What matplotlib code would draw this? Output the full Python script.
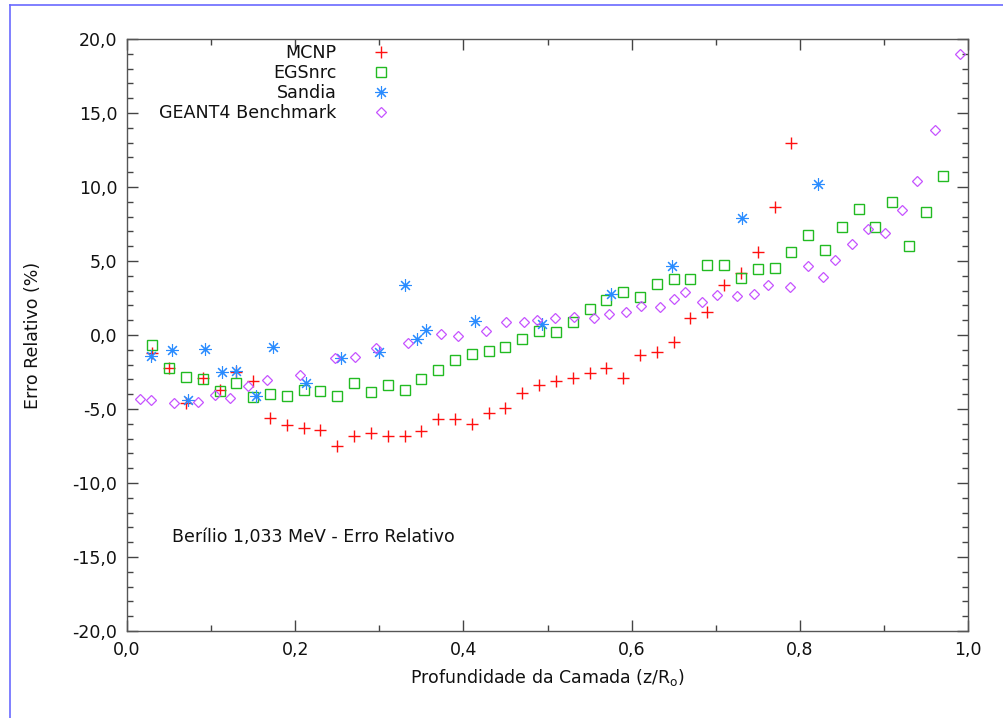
import matplotlib
matplotlib.use("Agg")
import matplotlib.pyplot as plt
from matplotlib.lines import Line2D
from matplotlib.ticker import MultipleLocator, FuncFormatter

# MCNP
mcnp_x = [0.03, 0.05, 0.07, 0.09, 0.11, 0.13, 0.15, 0.17, 0.19, 0.21, 0.23, 0.25,
          0.27, 0.29, 0.31, 0.33, 0.35, 0.37, 0.39, 0.41, 0.43, 0.45, 0.47, 0.49,
          0.51, 0.53, 0.55, 0.57, 0.59, 0.61, 0.63, 0.65, 0.67, 0.69, 0.71, 0.73,
          0.75, 0.77, 0.79]
mcnp_y = [-1.2, -2.2, -4.6, -2.9, -3.7, -2.5, -3.1, -5.6, -6.1, -6.3, -6.4, -7.5,
          -6.8, -6.6, -6.8, -6.8, -6.5, -5.7, -5.7, -6.0, -5.3, -4.9, -3.9, -3.4,
          -3.1, -2.9, -2.6, -2.2, -2.9, -1.35, -1.15, -0.5, 1.15, 1.55, 3.4, 4.2,
          5.6, 8.65, 13.0]

# EGSnrc
egs_x = [0.03, 0.05, 0.07, 0.09, 0.11, 0.13, 0.15, 0.17, 0.19, 0.21, 0.23, 0.25,
         0.27, 0.29, 0.31, 0.33, 0.35, 0.37, 0.39, 0.41, 0.43, 0.45, 0.47, 0.49,
         0.51, 0.53, 0.55, 0.57, 0.59, 0.61, 0.63, 0.65, 0.67, 0.69, 0.71, 0.73,
         0.75, 0.77, 0.79, 0.81, 0.83, 0.85, 0.87, 0.89, 0.91, 0.93, 0.95, 0.97]
egs_y = [-0.7, -2.2, -2.85, -3.0, -3.75, -3.25, -4.2, -4.0, -4.1, -3.7, -3.8, -4.1,
         -3.25, -3.85, -3.4, -3.7, -3.0, -2.35, -1.7, -1.3, -1.1, -0.8, -0.3, 0.3,
         0.2, 0.9, 1.75, 2.35, 2.9, 2.6, 3.45, 3.8, 3.8, 4.75, 4.7, 3.85,
         4.45, 4.5, 5.6, 6.75, 5.75, 7.3, 8.5, 7.3, 9.0, 6.0, 8.3, 10.75]

# Sandia
sandia_x = [0.029, 0.053, 0.072, 0.093, 0.113, 0.130, 0.153, 0.174, 0.213, 0.255,
            0.300, 0.330, 0.345, 0.355, 0.414, 0.494, 0.575, 0.648, 0.731, 0.822]
sandia_y = [-1.4, -1.0, -4.4, -0.95, -2.5, -2.4, -4.1, -0.8, -3.25, -1.55,
            -1.15, 3.4, -0.25, 0.35, 0.95, 0.75, 2.8, 4.65, 7.9, 10.2]

# GEANT4 Benchmark
g4_x = [0.015, 0.029, 0.056, 0.085, 0.105, 0.122, 0.144, 0.166, 0.206, 0.247,
        0.271, 0.296, 0.334, 0.373, 0.394, 0.427, 0.451, 0.472, 0.488, 0.509,
        0.531, 0.555, 0.573, 0.593, 0.611, 0.634, 0.650, 0.664, 0.684, 0.702,
        0.725, 0.746, 0.762, 0.788, 0.810, 0.828, 0.842, 0.862, 0.881, 0.901,
        0.922, 0.939, 0.961, 0.990]
g4_y = [-4.3, -4.4, -4.6, -4.5, -4.05, -4.25, -3.45, -3.05, -2.7, -1.55,
        -1.5, -0.9, -0.55, 0.05, -0.05, 0.25, 0.9, 0.9, 1.0, 1.15,
        1.2, 1.15, 1.4, 1.55, 1.95, 1.9, 2.45, 2.9, 2.2, 2.7,
        2.65, 2.8, 3.4, 3.24, 4.66, 3.9, 5.07, 6.15, 7.16, 6.9,
        8.45, 10.4, 13.85, 19.0]

labels = ["MCNP", "EGSnrc", "Sandia", "GEANT4 Benchmark"]

plt.rcParams["font.family"] = ["DejaVu Sans"]

fig = plt.figure(figsize=(10.04, 7.18), dpi=100)
ax = fig.add_axes([127 / 1004, 1 - 631 / 718, 841 / 1004, 592 / 718])

ax.plot(mcnp_x, mcnp_y, linestyle="none", marker="+", markersize=8,
        markeredgewidth=1.0, color="#ff1010", label=labels[0])
ax.plot(egs_x, egs_y, linestyle="none", marker="s", markersize=7,
        markeredgewidth=1.0, markerfacecolor="none", markeredgecolor="#22bb22",
        label=labels[1])
ax.plot(sandia_x, sandia_y, linestyle="none", marker=(8, 2, 0), markersize=9,
        markeredgewidth=0.8, color="#2a8cff", label=labels[2])
ax.plot(g4_x, g4_y, linestyle="none", marker="D", markersize=5,
        markeredgewidth=0.9, markerfacecolor="none", markeredgecolor="#c652ff",
        label=labels[3])

ax.set_xlim(0, 1)
ax.set_ylim(-20, 20)
ax.xaxis.set_major_locator(MultipleLocator(0.2))
ax.xaxis.set_minor_locator(MultipleLocator(0.1))
ax.yaxis.set_major_locator(MultipleLocator(5))
ax.yaxis.set_minor_locator(MultipleLocator(1))
ax.xaxis.set_major_formatter(FuncFormatter(lambda v, p: f"{v:.1f}".replace(".", ",")))
ax.yaxis.set_major_formatter(FuncFormatter(lambda v, p: f"{v:.1f}".replace(".", ",")))
ax.tick_params(which="both", direction="in", top=True, right=True,
               colors="#444444", labelcolor="#111111", labelsize=12.5)
ax.tick_params(which="major", length=8, width=1, pad=7)
ax.tick_params(which="minor", length=4, width=1)
for s in ax.spines.values():
    s.set_color("#555555")
    s.set_linewidth(1.0)

ax.set_xlabel("Profundidade da Camada (z/R$_\\mathregular{o}$)", fontsize=12.5,
              color="#111111", labelpad=6)
ax.set_ylabel("Erro Relativo (%)", fontsize=12.5, color="#111111", labelpad=22)

ax.text(172 / 1004, 1 - 537 / 718, "Berílio 1,033 MeV - Erro Relativo",
        transform=fig.transFigure, fontsize=12.5, color="#111111",
        ha="left", va="center")

leg = ax.legend(loc="upper right", bbox_to_anchor=(399 / 1004, 1 - 44 / 718),
                bbox_transform=fig.transFigure, markerfirst=False, frameon=False,
                fontsize=12.6, handletextpad=1.57, handlelength=2.0,
                labelspacing=0.12, borderpad=0, borderaxespad=0)
for t in leg.get_texts():
    t.set_color("#111111")

# page frame lines
fig.add_artist(Line2D([10 / 1004, 10 / 1004], [0, 1 - 5 / 718],
                      transform=fig.transFigure, color="#6a6aff", linewidth=1.2))
fig.add_artist(Line2D([10 / 1004, 1], [1 - 5 / 718, 1 - 5 / 718],
                      transform=fig.transFigure, color="#6a6aff", linewidth=1.2))

fig.savefig("out.png", dpi=100)
